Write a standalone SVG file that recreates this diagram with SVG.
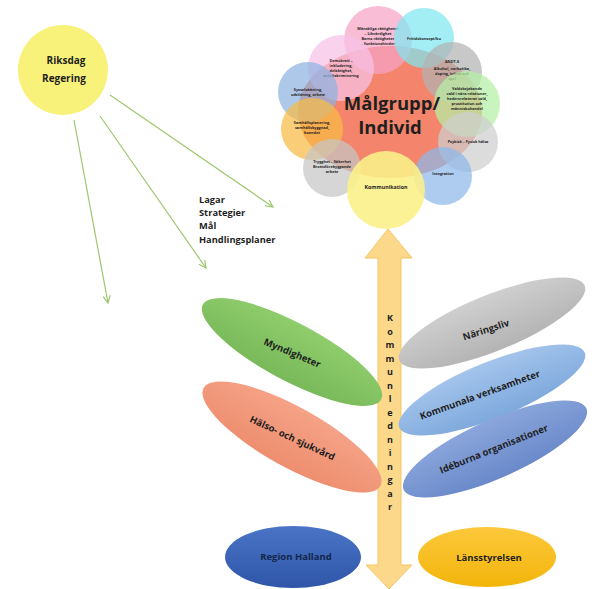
<svg xmlns="http://www.w3.org/2000/svg" width="600" height="589" viewBox="0 0 600 589">
<defs>
<style>
text{font-family:"Open Sans","Liberation Sans",sans-serif;font-weight:bold;fill:#1f1f1f;text-anchor:middle}
.pt{font-size:3.8px}
.lf{font-size:9.5px}
.lg{font-size:9.3px;text-anchor:start}
.arr{stroke:#9cc76e;stroke-width:1.2;fill:none}
.pet{opacity:0.72}
</style>
<marker id="ah" viewBox="0 0 10 10" refX="9" refY="5" markerWidth="9" markerHeight="9" orient="auto" markerUnits="userSpaceOnUse">
<path d="M1,1 L9,5 L1,9" fill="none" stroke="#9cc76e" stroke-width="1.3"/>
</marker>
<linearGradient id="gG" x1="0" y1="0" x2="0" y2="1"><stop offset="0" stop-color="#8fcc6c"/><stop offset="1" stop-color="#79b95a"/></linearGradient>
<linearGradient id="gS" x1="0" y1="0" x2="0" y2="1"><stop offset="0" stop-color="#f5a287"/><stop offset="1" stop-color="#ee8e6f"/></linearGradient>
<linearGradient id="gN" x1="0" y1="0" x2="0" y2="1"><stop offset="0" stop-color="#cfcfcf"/><stop offset="1" stop-color="#b4b4b4"/></linearGradient>
<linearGradient id="gK" x1="0" y1="0" x2="0" y2="1"><stop offset="0" stop-color="#a3c4ec"/><stop offset="1" stop-color="#7fa9dc"/></linearGradient>
<linearGradient id="gI" x1="0" y1="0" x2="0" y2="1"><stop offset="0" stop-color="#8aa6dc"/><stop offset="1" stop-color="#6a89c9"/></linearGradient>
<linearGradient id="gR" x1="0" y1="0" x2="0" y2="1"><stop offset="0" stop-color="#4a74c6"/><stop offset="1" stop-color="#2f56a8"/></linearGradient>
<linearGradient id="gL" x1="0" y1="0" x2="0" y2="1"><stop offset="0" stop-color="#fcc83a"/><stop offset="1" stop-color="#f3b50c"/></linearGradient>
</defs>
<rect width="600" height="589" fill="#ffffff"/>

<g id="riksdag">
<circle cx="63" cy="70" r="45" fill="#f8f27a"/>
<text x="66" y="64" font-size="10">Riksdag</text>
<text x="64" y="82" font-size="10">Regering</text>
</g>

<g id="connectors">
<line class="arr" x1="110" y1="95" x2="273" y2="207" marker-end="url(#ah)"/>
<line class="arr" x1="100" y1="116" x2="206" y2="268" marker-end="url(#ah)"/>
<line class="arr" x1="74" y1="120" x2="108" y2="303" marker-end="url(#ah)"/>
</g>

<g id="lagar">
<text class="lg" x="199" y="203">Lagar</text>
<text class="lg" x="199" y="216">Strategier</text>
<text class="lg" x="199" y="229">Mål</text>
<text class="lg" x="199" y="243">Handlingsplaner</text>
</g>

<g id="malgrupp">
<ellipse cx="390" cy="112" rx="92" ry="66" fill="#f4856c"/>
</g>
<g id="petals">
<g id="p-manskliga"><circle class="pet" cx="378" cy="40" r="34" fill="#f7a3c6"/>
<text class="pt" x="378" y="30">Mänskliga rättigheter</text><text class="pt" x="378" y="35">– Likvärdighet</text><text class="pt" x="378" y="40">Barns rättigheter</text><text class="pt" x="378" y="45">– funktionshinder</text></g>
<g id="p-demokrati"><circle class="pet" cx="341" cy="68" r="33" fill="#f6c2e8"/>
<text class="pt" x="341" y="62">Demokrati –</text><text class="pt" x="341" y="67">inkludering,</text><text class="pt" x="341" y="72">delaktighet,</text><text class="pt" x="341" y="77">antidiskriminering</text></g>
<g id="p-fritid"><circle class="pet" cx="424" cy="38" r="30" fill="#7fe6f0"/>
<text class="pt" x="424" y="40">Fritidskonsept/ku</text></g>
<g id="p-andts"><circle class="pet" cx="452" cy="72" r="30" fill="#b3b3b3"/>
<text class="pt" x="452" y="63">ANDT-S</text><text class="pt" x="452" y="70">Alkohol, narkotika,</text><text class="pt" x="452" y="75">doping, tobak och</text><text class="pt" x="452" y="80">spel</text></g>
<g id="p-vald"><circle class="pet" cx="467" cy="104" r="33" fill="#b5f0a5"/>
<text class="pt" x="467" y="90">Våldsbejakande</text><text class="pt" x="467" y="95">våld i nära relationer,</text><text class="pt" x="467" y="100">hedersrelaterat våld,</text><text class="pt" x="467" y="105">prostitution och</text><text class="pt" x="467" y="110">människohandel</text></g>
<g id="p-syssel"><circle class="pet" cx="308" cy="92" r="30" fill="#8db3e0"/>
<text class="pt" x="308" y="91">Sysselsättning,</text><text class="pt" x="308" y="96">utbildning, arbete</text></g>
<g id="p-samhalle"><circle class="pet" cx="312" cy="129" r="31" fill="#f8bb45"/>
<text class="pt" x="312" y="124">Samhällsplanering,</text><text class="pt" x="312" y="129">samhällsbyggnad,</text><text class="pt" x="312" y="134">boendet</text></g>
<g id="p-trygghet"><circle class="pet" cx="332" cy="168" r="29" fill="#c6c6c6"/>
<text class="pt" x="332" y="163">Trygghet – Säkerhet</text><text class="pt" x="332" y="168">Brottsförebyggande</text><text class="pt" x="332" y="173">arbete</text></g>
<g id="p-psykisk"><circle class="pet" cx="468" cy="142" r="30" fill="#cfcfcf"/>
<text class="pt" x="468" y="143">Psykisk – Fysisk hälsa</text></g>
<g id="p-integration"><circle class="pet" cx="443" cy="176" r="29" fill="#8db8ea"/>
<text class="pt" x="443" y="175">Integration</text></g>
<g id="p-kommunikation"><circle cx="386" cy="190" r="39" fill="#fbf08a" opacity="0.9"/>
<text x="386" y="189" font-size="5.3">Kommunikation</text></g>
<text x="392" y="110" font-size="18.5" fill="#222">Målgrupp/</text>
<text x="390" y="134" font-size="18.5" fill="#222">Individ</text>
</g>

<g id="kommunledningar">
<path d="M388,229 L412,258 L401,258 L401,565 L412,565 L389,589 L366,565 L378,565 L378,258 L365,258 Z" fill="#fbd88a" stroke="#f6c565" stroke-width="1"/>
<g font-size="9">
<text x="390" y="321">K</text><text x="390" y="335">o</text><text x="390" y="348">m</text><text x="390" y="362">m</text><text x="390" y="375">u</text><text x="390" y="389">n</text><text x="390" y="402">l</text><text x="390" y="416">e</text><text x="390" y="429">d</text><text x="390" y="443">n</text><text x="390" y="456">i</text><text x="390" y="470">n</text><text x="390" y="483">g</text><text x="390" y="497">a</text><text x="390" y="510">r</text>
</g>
</g>

<g id="myndigheter">
<ellipse cx="292" cy="352" rx="101" ry="29" transform="rotate(28 292 352)" fill="url(#gG)"/>
<text class="lf" transform="translate(291,356) rotate(23)">Myndigheter</text>
</g>
<g id="halso">
<ellipse cx="292" cy="437" rx="101" ry="30" transform="rotate(29 292 437)" fill="url(#gS)"/>
<text class="lf" transform="translate(291,441) rotate(25)">Hälso- och sjukvård</text>
</g>
<g id="naringsliv">
<ellipse cx="492" cy="323" rx="100" ry="28" transform="rotate(-22 492 323)" fill="url(#gN)"/>
<text class="lf" transform="translate(487,333) rotate(-18)">Näringsliv</text>
</g>
<g id="kommunala">
<ellipse cx="492" cy="390" rx="100" ry="28" transform="rotate(-22 492 390)" fill="url(#gK)"/>
<text class="lf" transform="translate(481,398) rotate(-20)">Kommunala verksamheter</text>
</g>
<g id="ideburna">
<ellipse cx="495" cy="449" rx="100" ry="29" transform="rotate(-24 495 449)" fill="url(#gI)"/>
<text class="lf" transform="translate(495,452) rotate(-22)">Idéburna organisationer</text>
</g>
<g id="region">
<ellipse cx="293" cy="557" rx="68" ry="31" fill="url(#gR)"/>
<text class="lf" x="296" y="560" style="fill:#14264a">Region Halland</text>
</g>
<g id="lansstyrelsen">
<ellipse cx="487" cy="557" rx="69" ry="30" fill="url(#gL)"/>
<text class="lf" x="489" y="561">Länsstyrelsen</text>
</g>
</svg>
